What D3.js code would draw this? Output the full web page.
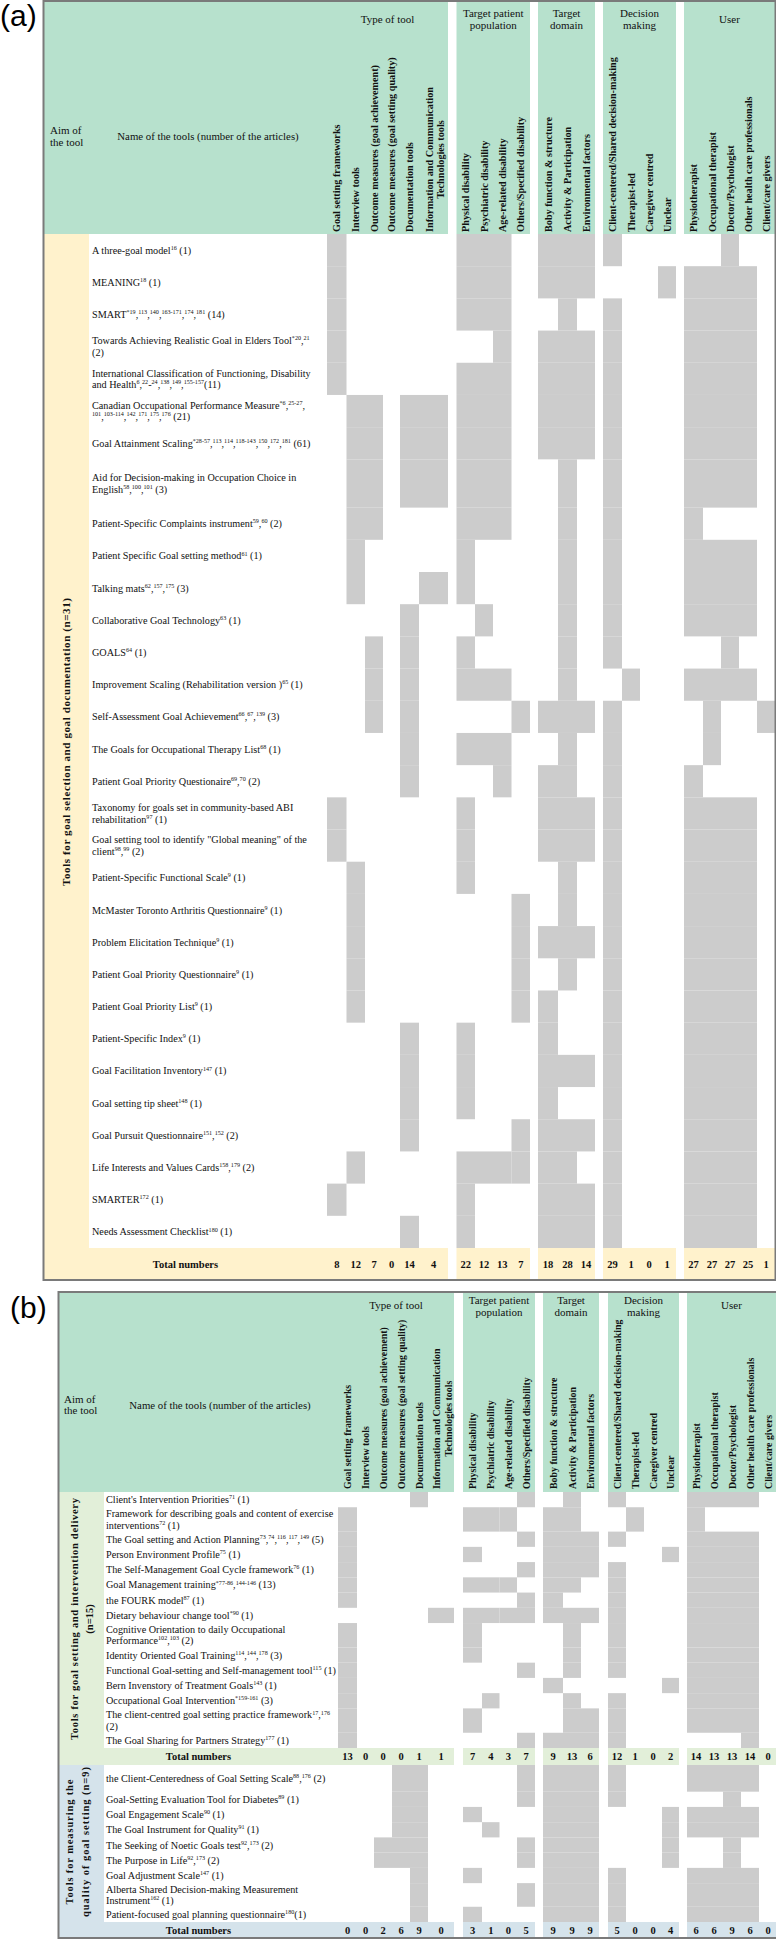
<!DOCTYPE html>
<html><head><meta charset="utf-8">
<script src="https://cdn.jsdelivr.net/npm/d3@7/dist/d3.min.js"></script>
<style>body{margin:0;background:#fff}svg{display:block}</style>
</head><body>
<svg id="c" width="776" height="1940"></svg>
<script>
// ---------------- DATA ----------------
const groupTitles = [["Type of tool"], ["Target patient", "population"], ["Target", "domain"], ["Decision", "making"], ["User"]];
const typeCols = ["Goal setting frameworks", "Interview tools", "Outcome measures (goal achievement)", "Outcome measures (goal setting quality)", "Documentation tools", ["Information and Communication", "Technologies tools"]];
const patientCols = ["Physical disability", "Psychiatric disability", "Age-related disability", "Others/Specified disability"];
const domainCols = ["Boby function & structure", "Activity & Participation", "Environmental factors"];
const decisionCols = ["Client-centered/Shared decision-making", "Therapist-led", "Caregiver centred", "Unclear"];
const userCols = ["Physiotherapist", "Occupational therapist", "Doctor/Psychologist", "Other health care professionals", "Client/care givers"];
const aimHeader = ["Aim of", "the tool"];
const nameHeader = "Name of the tools (number of the articles)";
const totalLabel = "Total numbers";

// Panel (a)
const aimA = ["Tools for goal selection and  goal documentation (n=31)"];
const toolsA = [
  "A three-goal model^{16} (1)",
  "MEANING^{18} (1)",
  "SMART^{*19},^{113},^{140},^{163-171},^{174},^{181} (14)",
  "Towards Achieving Realistic Goal in Elders Tool^{*20},^{21}|(2)",
  "International Classification of Functioning, Disability|and Health^{6},^{22}-^{24},^{138},^{149},^{155-157}(11)",
  "Canadian Occupational Performance Measure^{*6},^{25-27},|^{101},^{103-114},^{142},^{171},^{175},^{176} (21)",
  "Goal Attainment Scaling^{*28-57},^{113},^{114},^{118-143},^{150},^{172},^{181} (61)",
  "Aid for Decision-making in Occupation Choice in|English^{58},^{100},^{101} (3)",
  "Patient-Specific Complaints instrument^{59},^{60} (2)",
  "Patient Specific Goal setting method^{61} (1)",
  "Talking mats^{62},^{157},^{175} (3)",
  "Collaborative Goal Technology^{63} (1)",
  "GOALS^{64} (1)",
  "Improvement Scaling (Rehabilitation version )^{65} (1)",
  "Self-Assessment Goal Achievement^{66},^{67},^{139} (3)",
  "The Goals for Occupational Therapy List^{68} (1)",
  "Patient Goal Priority Questionaire^{69},^{70} (2)",
  "Taxonomy for goals set in community-based ABI|rehabilitation^{97} (1)",
  "Goal setting tool to identify \"Global meaning\" of the|client^{98},^{99} (2)",
  "Patient-Specific Functional Scale^{9} (1)",
  "McMaster Toronto Arthritis Questionnaire^{9} (1)",
  "Problem Elicitation Technique^{9} (1)",
  "Patient Goal Priority Questionnaire^{9} (1)",
  "Patient Goal Priority List^{9} (1)",
  "Patient-Specific Index^{9} (1)",
  "Goal Facilitation Inventory^{147} (1)",
  "Goal setting tip sheet^{148} (1)",
  "Goal Pursuit Questionnaire^{151},^{152} (2)",
  "Life Interests and Values Cards^{158},^{179} (2)",
  "SMARTER^{172} (1)",
  "Needs Assessment Checklist^{180} (1)"
];
// type(6) patient(4) domain(3) decision(4) user(5)
const cellsA = [
  "100000 1110 111 1000 00100",
  "100000 1110 111 0001 11110",
  "100000 1110 010 1000 11110",
  "100000 0010 111 1000 11110",
  "100000 1110 111 1000 11110",
  "011011 1110 111 1000 11110",
  "011011 1110 111 1000 11110",
  "011011 1110 010 1000 11110",
  "011000 1110 010 1000 10000",
  "010000 1000 010 1000 11110",
  "010001 1000 010 1000 11110",
  "000010 0100 010 1000 11110",
  "001010 1000 010 1000 00100",
  "001010 1110 010 0100 11110",
  "001010 0001 111 1000 01001",
  "000010 1110 010 1000 01000",
  "000010 0010 110 1000 10000",
  "100000 1000 111 1000 11110",
  "100000 1000 111 1000 11110",
  "010000 1000 010 1000 11110",
  "010000 0001 010 1000 11110",
  "010000 0001 111 1000 11110",
  "010000 0001 010 1000 11110",
  "010000 0001 100 1000 11110",
  "000010 1000 100 1000 11110",
  "000010 1000 111 1000 11110",
  "000010 1000 100 1000 11110",
  "000010 0001 111 1000 11110",
  "010000 1111 110 1000 11110",
  "100000 1000 111 1000 11110",
  "000010 1000 111 1000 11110"
];
const totalsA = [8, 12, 7, 0, 14, 4, 22, 12, 13, 7, 18, 28, 14, 29, 1, 0, 1, 27, 27, 27, 25, 1];

// Panel (b) section 1
const aimB1 = ["Tools for goal setting and intervention delivery", "(n=15)"];
const toolsB1 = [
  "Client's Intervention Priorities^{71} (1)",
  "Framework for describing goals and content of exercise|interventions^{72} (1)",
  "The Goal setting and Action Planning^{73},^{74},^{116},^{117},^{149} (5)",
  "Person Environment Profile^{75} (1)",
  "The Self-Management Goal Cycle framework^{76} (1)",
  "Goal Management training^{*77-86},^{144-146} (13)",
  "the FOURK model^{87} (1)",
  "Dietary behaviour change tool^{*90} (1)",
  "Cognitive Orientation to daily Occupational|Performance^{102},^{103} (2)",
  "Identity Oriented Goal Training^{114},^{144},^{178} (3)",
  "Functional Goal-setting and Self-management tool^{115} (1)",
  "Bern Invenstory of Treatment Goals^{143} (1)",
  "Occupational Goal Intervention^{*159-161} (3)",
  "The client-centred goal setting practice framework^{17},^{176}|(2)",
  "The Goal Sharing for Partners Strategy^{177} (1)"
];
const cellsB1 = [
  "000010 0001 010 1000 11110",
  "100000 1110 110 0100 10000",
  "100000 0001 111 1000 11110",
  "100000 1000 111 0001 11110",
  "100000 0001 111 1000 11110",
  "100000 1110 110 1000 11110",
  "100000 0001 100 1000 11110",
  "000001 1111 111 1000 11110",
  "100000 1000 010 1000 11110",
  "100000 1000 010 1000 11110",
  "100000 0001 010 1000 11110",
  "100000 0000 100 0001 11110",
  "100000 0100 010 1000 11110",
  "100000 1000 011 1000 11110",
  "100000 0001 111 1000 00010"
];
const totalsB1 = [13, 0, 0, 0, 1, 1, 7, 4, 3, 7, 9, 13, 6, 12, 1, 0, 2, 14, 13, 13, 14, 0];

// Panel (b) section 2
const aimB2 = ["Tools for measuring the", "quality of goal setting (n=9)"];
const toolsB2 = [
  "the Client-Centeredness of Goal Setting Scale^{88},^{176} (2)",
  "Goal-Setting Evaluation Tool for Diabetes^{89} (1)",
  "Goal Engagement Scale^{90} (1)",
  "The Goal Instrument for Quality^{91} (1)",
  "The Seeking of Noetic Goals test^{92},^{173} (2)",
  "The Purpose in Life^{92},^{173} (2)",
  "Goal Adjustment Scale^{147} (1)",
  "Alberta Shared Decision-making Measurement|Instrument^{162} (1)",
  "Patient-focused goal planning questionnaire^{180}(1)"
];
const cellsB2 = [
  "000110 0001 111 1000 11110",
  "000110 0001 111 1000 00100",
  "000110 1000 111 0001 11110",
  "000110 0100 111 0001 11110",
  "001110 0001 111 0001 00100",
  "001110 0001 111 0001 00100",
  "000010 1000 111 1000 11110",
  "000010 0001 111 1000 11110",
  "000010 1000 111 1000 11110"
];
const totalsB2 = [0, 0, 2, 6, 9, 0, 3, 1, 0, 5, 9, 9, 9, 5, 0, 0, 4, 6, 6, 9, 6, 0];

// ---------------- LAYOUT / STYLE ----------------
const SERIF = "'Liberation Serif','Times New Roman',serif";
const C = {green: "#b7e1cd", yellow: "#fff2cc", pgreen: "#e2efd9", blue: "#d5e3eb", cell: "#cccccc", border: "#7a7a7a", ink: "#111"};
const columnGroups = [typeCols, patientCols, domainCols, decisionCols, userCols];

const panels = [
  {
    tag: "(a)", tagX: 0, tagY: 26,
    box: [43.5, 1, 775.5, 1280], head: [2, 234], aim: [44, 89], nameX: 92,
    aimHeadX: 50, aimHeadY: [134, 145.5], nameHeadX: 208, nameHeadY: 139.5,
    titleY1: 22.5, titleY2: [17, 28.5], labelBase: 232, labelSize: 10.2, ictOff: [-4.5, 6.5],
    groups: [[327, [19.5, 18.5, 18, 17, 19, 29]], [456.5, [18.5, 18, 18.5, 18.5]], [538, [20, 19, 18]], [603, [19, 18, 18, 18]], [684, [19, 18, 18, 18, 18]]],
    sections: [
      {aimLines: aimA, tools: toolsA, cells: cellsA, totals: totalsA, fill: C.yellow, top: 234, bot: 1248, end: 1280,
       weights: toolsA.map((d, i) => i === 7 ? 1.5 : 1), aimX: [69.5], aimY: 742, aimLen: [288], aimSize: 11, gap: 5.8}
    ]
  },
  {
    tag: "(b)", tagX: 10, tagY: 1318,
    box: [58.5, 1292, 790, 1938], head: [1293, 1492], aim: [59, 104], nameX: 106,
    aimHeadX: 64, aimHeadY: [1402.5, 1414], nameHeadX: 220, nameHeadY: 1408.5,
    titleY1: 1309, titleY2: [1304, 1315.5], labelBase: 1489, labelSize: 9.9, ictOff: [-5, 7],
    groups: [[338, [19, 17, 18, 18, 18, 26]], [463, [19, 17.5, 17.5, 18]], [543, [20, 18, 18]], [608, [18, 18, 18, 17]], [687, [18, 18, 18, 18, 18]]],
    sections: [
      {aimLines: aimB1, tools: toolsB1, cells: cellsB1, totals: totalsB1, fill: C.pgreen, top: 1492, bot: 1748, end: 1765,
       weights: toolsB1.map(d => d.includes("|") ? 1.6 : 1), aimX: [77.5, 92.5], aimY: 1619, aimLen: [242, 0], aimSize: 10.5, gap: 5.6},
      {aimLines: aimB2, tools: toolsB2, cells: cellsB2, totals: totalsB2, fill: C.blue, top: 1765, bot: 1922, end: 1938,
       weights: [1.75, 1, 1, 1, 1, 1, 1, 1.55, 1], aimX: [73, 89], aimY: 1842, aimLen: [125, 150], aimSize: 10.5, gap: 5.6}
    ]
  }
];

const svg = d3.select("#c").attr("font-family", SERIF);

function richText(g, str, x, y, size, weight) {
  const t = g.append("text").attr("x", x).attr("y", y).attr("font-size", size)
    .attr("fill", C.ink).attr("font-weight", weight || "normal");
  const parts = str.split(/(\^\{[^}]*\})/).filter(s => s.length);
  const rise = size * 0.38;
  let up = false;
  parts.forEach(p => {
    if (p.startsWith("^{")) {
      t.append("tspan").attr("font-size", size * 0.6).attr("dy", up ? 0 : -rise).text(p.slice(2, -1));
      up = true;
    } else {
      t.append("tspan").attr("dy", up ? rise : 0).text(p);
      up = false;
    }
  });
  return t;
}

panels.forEach(P => {
  const g = svg.append("g");
  const cols = [];
  const groupExt = [];
  P.groups.forEach(([x0, ws], gi) => {
    let x = x0;
    ws.forEach((w, k) => { cols.push({x: x, w: w, label: columnGroups[gi][k], g: gi}); x += w; });
    groupExt.push([x0, x]);
  });
  const colScale = d3.scaleOrdinal().domain(d3.range(cols.length)).range(cols);

  // header background
  g.append("rect").attr("x", P.aim[0]).attr("y", P.head[0]).attr("width", groupExt[0][1] - P.aim[0]).attr("height", P.head[1] - P.head[0]).attr("fill", C.green);
  groupExt.slice(1).forEach(([a, b]) => g.append("rect").attr("x", a).attr("y", P.head[0]).attr("width", Math.min(b, 776) - a).attr("height", P.head[1] - P.head[0]).attr("fill", C.green));

  // section backgrounds
  P.sections.forEach(S => {
    g.append("rect").attr("x", P.aim[0]).attr("y", S.top).attr("width", P.aim[1] - P.aim[0]).attr("height", S.end - S.top).attr("fill", S.fill);
    g.append("rect").attr("x", P.aim[1]).attr("y", S.bot).attr("width", groupExt[0][1] - P.aim[1]).attr("height", S.end - S.bot).attr("fill", S.fill);
    groupExt.slice(1).forEach(([a, b]) => g.append("rect").attr("x", a).attr("y", S.bot).attr("width", Math.min(b, 776) - a).attr("height", S.end - S.bot).attr("fill", S.fill));
  });

  // header texts
  richText(g, aimHeader[0], P.aimHeadX, P.aimHeadY[0], 11);
  richText(g, aimHeader[1], P.aimHeadX, P.aimHeadY[1], 11);
  g.append("text").attr("x", P.nameHeadX).attr("y", P.nameHeadY).attr("text-anchor", "middle").attr("font-size", 10.8).attr("fill", C.ink).text(nameHeader);
  groupTitles.forEach((lines, gi) => {
    const cx = (groupExt[gi][0] + Math.min(groupExt[gi][1], 776)) / 2;
    const ys = lines.length === 1 ? [P.titleY1] : P.titleY2;
    lines.forEach((ln, k) => g.append("text").attr("x", cx).attr("y", ys[k]).attr("text-anchor", "middle").attr("font-size", 11).attr("fill", C.ink).text(ln));
  });
  cols.forEach(c => {
    const cx = c.x + c.w / 2;
    if (Array.isArray(c.label)) {
      const t1 = g.append("text").attr("transform", `translate(${cx + P.ictOff[0] + 3.5},${P.labelBase}) rotate(-90)`)
        .attr("font-size", P.labelSize).attr("font-weight", "bold").attr("fill", C.ink).text(c.label[0]);
      const len = t1.node().getComputedTextLength();
      g.append("text").attr("transform", `translate(${cx + P.ictOff[1] + 3.5},${P.labelBase - len / 2}) rotate(-90)`)
        .attr("text-anchor", "middle").attr("font-size", P.labelSize).attr("font-weight", "bold").attr("fill", C.ink).text(c.label[1]);
    } else {
      g.append("text").attr("transform", `translate(${cx + 3.5},${P.labelBase}) rotate(-90)`)
        .attr("font-size", P.labelSize).attr("font-weight", "bold").attr("fill", C.ink).text(c.label);
    }
  });

  // sections
  P.sections.forEach(S => {
    const cum = [0];
    S.weights.forEach(w => cum.push(cum[cum.length - 1] + w));
    const y = d3.scaleLinear().domain([0, cum[cum.length - 1]]).range([S.top, S.bot]);
    S.cells.forEach((row, i) => {
      const bits = row.replace(/\s+/g, "").split("");
      bits.forEach((b, j) => {
        if (b !== "1") return;
        const c = colScale(j);
        g.append("rect").attr("x", c.x).attr("y", y(cum[i])).attr("width", Math.min(c.x + c.w, 776) - c.x)
          .attr("height", y(cum[i + 1]) - y(cum[i])).attr("fill", C.cell);
      });
    });
    S.tools.forEach((lab, i) => {
      const yc = (y(cum[i]) + y(cum[i + 1])) / 2;
      const lines = lab.split("|");
      lines.forEach((ln, k) => {
        const yy = lines.length === 1 ? yc + 3.5 : yc + 3.5 + (k === 0 ? -S.gap : S.gap);
        richText(g, ln, P.nameX, yy, 10.2);
      });
    });
    const ty = (S.bot + S.end) / 2 + 3.7;
    g.append("text").attr("x", (P.aim[0] + cols[0].x) / 2).attr("y", ty).attr("text-anchor", "middle")
      .attr("font-size", 10.5).attr("font-weight", "bold").attr("fill", C.ink).text(totalLabel);
    S.totals.forEach((v, j) => {
      const c = colScale(j);
      g.append("text").attr("x", c.x + c.w / 2).attr("y", ty).attr("text-anchor", "middle")
        .attr("font-size", 10.5).attr("font-weight", "bold").attr("fill", C.ink).text(v);
    });
    S.aimLines.forEach((ln, k) => {
      const t = g.append("text").attr("transform", `translate(${S.aimX[k]},${S.aimY}) rotate(-90)`)
        .attr("text-anchor", "middle").attr("font-size", S.aimSize).attr("font-weight", "bold").attr("fill", C.ink).text(ln);
      if (S.aimLen[k]) t.attr("textLength", S.aimLen[k]).attr("lengthAdjust", "spacing");
    });
  });

  g.append("rect").attr("x", P.box[0]).attr("y", P.box[1]).attr("width", P.box[2] - P.box[0]).attr("height", P.box[3] - P.box[1])
    .attr("fill", "none").attr("stroke", C.border).attr("stroke-width", 2);
  g.append("text").attr("x", P.tagX).attr("y", P.tagY).attr("font-family", "'Liberation Sans',Arial,sans-serif")
    .attr("font-size", 30).attr("fill", "#000").text(P.tag);
});
</script>
</body></html>
